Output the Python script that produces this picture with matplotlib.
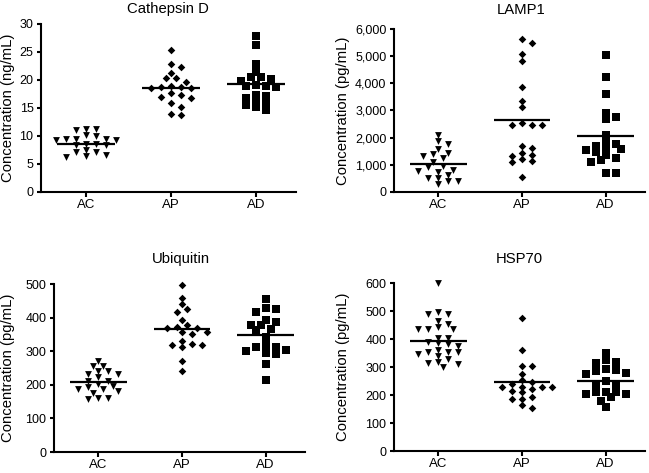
import matplotlib
matplotlib.use('Agg')
import matplotlib.pyplot as plt
import numpy as np

plt.rcParams['font.family'] = ['Liberation Sans', 'DejaVu Sans']

groups = ['AC', 'AP', 'AD']
titles = ['Cathepsin D', 'LAMP1', 'Ubiquitin', 'HSP70']
ylabels = ['Concentration (ng/mL)', 'Concentration (pg/mL)',
           'Concentration (pg/mL)', 'Concentration (pg/mL)']

# Cathepsin D (ng/mL)
cath_ac = [11.3, 11.0, 11.3, 10.2, 10.0, 9.3, 9.5, 9.3, 9.4, 9.4,
           8.6, 8.4, 8.4, 8.6, 7.1, 6.6, 6.3, 6.5, 7.1, 7.5]
cath_ap = [25.3, 22.4, 22.8, 21.3, 20.3, 20.4, 19.6, 18.9, 18.6, 18.6,
           18.7, 18.8, 17.7, 17.3, 16.8, 16.9, 15.9, 15.1, 13.7, 14.0]
cath_ad = [27.8, 26.2, 22.9, 21.5, 20.6, 20.5, 20.1, 19.8, 18.9, 18.8,
           18.9, 19.1, 17.1, 17.3, 16.7, 16.2, 15.6, 15.8, 14.6, 15.2]
cath_mean = [8.5, 18.6, 19.2]

# LAMP1 (pg/mL)
lamp_ac = [2105, 1760, 1860, 1430, 1580, 1395, 1310, 1250, 1090, 906,
           942, 783, 820, 722, 636, 514, 514, 392, 392, 294]
lamp_ap = [5618, 5496, 5080, 4835, 3855, 3366, 3121, 2534, 2472, 2472,
           2472, 1616, 1677, 1310, 1432, 1371, 1126, 1089, 1212, 539]
lamp_ad = [5043, 4223, 3611, 2900, 2693, 2778, 2105, 1700, 1616, 1824,
           1775, 1580, 1555, 1469, 1371, 1187, 1249, 1089, 698, 698]
lamp_mean = [1030, 2640, 2060]

# Ubiquitin (pg/mL)
ubq_ac = [256, 271, 256, 241, 241, 232, 232, 222, 212, 212,
          203, 197, 192, 187, 187, 182, 177, 162, 158, 162]
ubq_ap = [496, 458, 440, 418, 425, 392, 377, 372, 369, 357,
          352, 357, 369, 322, 317, 312, 319, 329, 271, 242]
ubq_ad = [456, 426, 416, 428, 394, 387, 379, 379, 364, 366,
          342, 312, 292, 296, 317, 302, 312, 262, 215, 304]
ubq_mean = [207, 365, 348]

# HSP70 (pg/mL)
hsp_ac = [600, 497, 491, 491, 464, 442, 452, 434, 434, 434,
          405, 405, 381, 384, 389, 375, 359, 355, 355, 348,
          355, 339, 327, 315, 301, 310, 319]
hsp_ap = [476, 362, 302, 304, 276, 253, 245, 227, 230, 229,
          221, 230, 209, 215, 185, 193, 187, 153, 164, 240]
hsp_ad = [351, 288, 316, 324, 292, 280, 276, 286, 250, 241,
          241, 212, 209, 205, 212, 205, 193, 179, 158, 319]
hsp_mean = [393, 246, 251]

panels = [
    dict(data=[cath_ac, cath_ap, cath_ad], mean=cath_mean, ylim=(0, 30),
         yticks=[0, 5, 10, 15, 20, 25, 30], fmt='{:d}',
         box=(41, 296, 24, 192), title_xy=(168, 9), ylab_x=8),
    dict(data=[lamp_ac, lamp_ap, lamp_ad], mean=lamp_mean, ylim=(0, 6000),
         yticks=[0, 1000, 2000, 3000, 4000, 5000, 6000], fmt='{:,d}',
         box=(394, 645, 29, 192), title_xy=(521, 10), ylab_x=343),
    dict(data=[ubq_ac, ubq_ap, ubq_ad], mean=ubq_mean, ylim=(0, 500),
         yticks=[0, 100, 200, 300, 400, 500], fmt='{:d}',
         box=(54, 305, 284, 452), title_xy=(181, 259), ylab_x=8),
    dict(data=[hsp_ac, hsp_ap, hsp_ad], mean=hsp_mean, ylim=(0, 600),
         yticks=[0, 100, 200, 300, 400, 500, 600], fmt='{:d}',
         box=(394, 645, 283, 451), title_xy=(519, 259), ylab_x=343),
]

markers = ['v', 'D', 's']
msizes = [24, 15, 26]

W, H = 649, 473
fig = plt.figure(figsize=(W / 100, H / 100), dpi=100)


def swarm(vals, ax, d_px=10.0, h_px=5.5):
    """Greedy beeswarm offsets (category units) computed in pixel space."""
    x0 = ax.transData.transform((0, 0))
    x1 = ax.transData.transform((1, 0))
    px_per_cat = x1[0] - x0[0]
    ypx = np.array([ax.transData.transform((0, v))[1] for v in vals])
    order = np.argsort(-ypx)
    placed = []
    offs = np.zeros(len(vals))
    cands = [0.0]
    for k in range(1, 20):
        cands += [k * d_px / 2, -k * d_px / 2]
    for i in order:
        for c in cands:
            ok = True
            for (px, py) in placed:
                if ((c - px) / d_px) ** 2 + ((ypx[i] - py) / h_px) ** 2 < 1.0:
                    ok = False
                    break
            if ok:
                offs[i] = c
                placed.append((c, ypx[i]))
                break
    return offs / px_per_cat


for pi, p in enumerate(panels):
    l, r, t, b = p['box']
    ax = fig.add_axes([l / W, 1 - b / H, (r - l) / W, (b - t) / H])
    ax.set_xlim(-0.53, 2.47)
    ax.set_ylim(*p['ylim'])
    for gi, vals in enumerate(p['data']):
        offs = swarm(vals, ax)
        ax.scatter(gi + offs, vals, marker=markers[gi], s=msizes[gi],
                   color='black', linewidths=0, zorder=3, clip_on=False)
        ax.hlines(p['mean'][gi], gi - 0.34, gi + 0.34, color='black',
                  linewidth=1.6, zorder=4)
    ax.set_xticks(range(3))
    ax.set_xticklabels(groups, fontsize=9.5)
    ax.set_yticks(p['yticks'])
    ax.set_yticklabels([p['fmt'].format(v) for v in p['yticks']], fontsize=9)
    for s in ['top', 'right']:
        ax.spines[s].set_visible(False)
    for s in ['left', 'bottom']:
        ax.spines[s].set_linewidth(1.5)
    ax.tick_params(axis='both', direction='out', width=1.5, color='black')
    ax.tick_params(axis='y', length=3, pad=2.4)
    ax.tick_params(axis='x', length=3.6, pad=1.5)
    tx, ty = p['title_xy']
    fig.text(tx / W, 1 - ty / H, titles[pi], ha='center',
             va='center', fontsize=10.7)
    fig.text(p['ylab_x'] / W, 1 - ((t + b) / 2) / H, ylabels[pi],
             ha='center', va='center', rotation=90, fontsize=10.7)

fig.savefig('out.png', dpi=100)
